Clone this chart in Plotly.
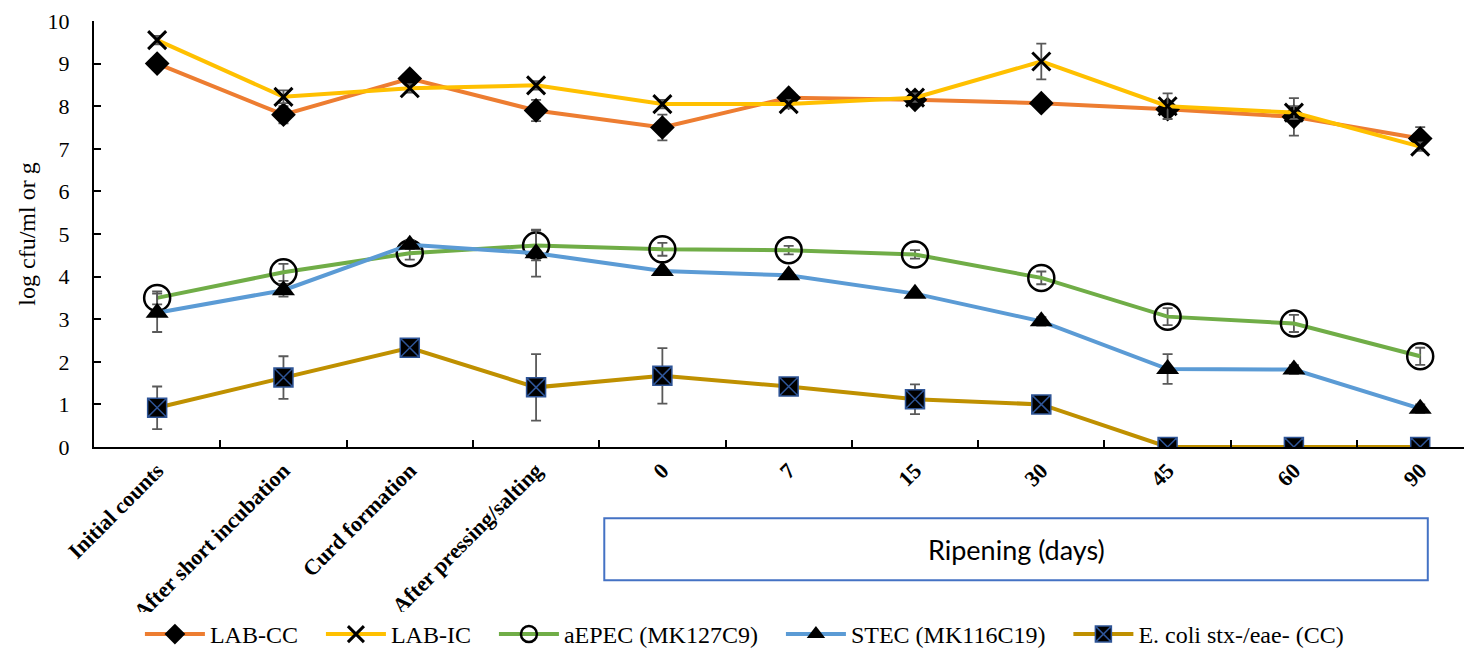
import plotly.graph_objects as go

categories = ["Initial counts", "After short incubation", "Curd formation", "After pressing/salting",
              "0", "7", "15", "30", "45", "60", "90"]

lab_cc = [9.0, 7.8, 8.65, 7.9, 7.5, 8.2, 8.15, 8.07, 7.93, 7.75, 7.24]
lab_cc_err = [0.1, 0.2, 0.1, 0.25, 0.3, 0.1, 0.1, 0.1, 0.15, 0.44, 0.27]

lab_ic = [9.55, 8.22, 8.42, 8.49, 8.05, 8.05, 8.2, 9.05, 8.0, 7.85, 7.05]
lab_ic_err = [0.1, 0.15, 0.1, 0.1, 0.1, 0.1, 0.1, 0.42, 0.3, 0.15, 0.1]

aepec = [3.5, 4.1, 4.55, 4.73, 4.64, 4.62, 4.52, 3.97, 3.06, 2.9, 2.13]
aepec_err = [0.15, 0.2, 0.15, 0.35, 0.15, 0.1, 0.1, 0.15, 0.2, 0.2, 0.2]

stec = [3.15, 3.68, 4.75, 4.55, 4.13, 4.03, 3.6, 2.95, 1.83, 1.82, 0.9]
stec_err = [0.45, 0.15, 0.1, 0.55, 0.05, 0.05, 0.05, 0.1, 0.35, 0.1, 0.1]

ecoli = [0.92, 1.63, 2.33, 1.4, 1.67, 1.42, 1.12, 1.0, 0.0, 0.0, 0.0]
ecoli_err = [0.5, 0.5, 0.1, 0.78, 0.65, 0.05, 0.35, 0.15, 0.0, 0.0, 0.0]

series = [
    ("LAB-CC", lab_cc, lab_cc_err, "#ED7D31", dict(symbol="diamond", size=19, color="black")),
    ("LAB-IC", lab_ic, lab_ic_err, "#FFC000", dict(symbol="x-thin-open", size=18, color="black",
                                                   line=dict(color="black", width=3))),
    ("aEPEC (MK127C9)", aepec, aepec_err, "#70AD47", dict(symbol="circle-open", size=26, color="black",
                                                          line=dict(color="black", width=2.5))),
    ("STEC (MK116C19)", stec, stec_err, "#5B9BD5", dict(symbol="triangle-up", size=20, color="black")),
    ("E. coli stx-/eae- (CC)", ecoli, ecoli_err, "#BF9000", dict(symbol="square-x", size=19, color="black",
                                                                 line=dict(color="#2F5597", width=1.5))),
]

pad = "\u00a0" * 3
fig = go.Figure()
for i, (name, vals, errs, col, mk) in enumerate(series):
    fig.add_trace(go.Scatter(
        x=categories, y=vals, name=name + (pad if i < len(series) - 1 else ""), mode="lines+markers",
        line=dict(color=col, width=4),
        marker=mk,
        error_y=dict(type="data", array=errs, visible=True, color="#595959", thickness=1.8, width=5),
    ))

serif = "Liberation Serif"
# page body has an 8px default margin; figure sized to fit the 1472x657 window
fig.update_layout(
    width=1464, height=649,
    margin=dict(l=86, r=0, t=13, b=210),
    plot_bgcolor="white", paper_bgcolor="white",
    font=dict(family=serif, color="black"),
    showlegend=True,
    legend=dict(orientation="h", xref="paper", yref="container", x=0.472, xanchor="center",
                y=0.0, yanchor="bottom",
                font=dict(family=serif, size=24, color="black"), itemwidth=60),
    xaxis=dict(type="category", range=[-0.5, 10.41], tickangle=-45, automargin=False,
               tickfont=dict(family=serif, size=22, color="black", weight="bold"),
               showline=True, linecolor="black", linewidth=2,
               ticks="inside", ticklen=7, tickwidth=2, tickcolor="black", tickson="boundaries",
               showgrid=False, zeroline=False),
    yaxis=dict(range=[0, 10], dtick=1, automargin=False, ticklabeloverflow="allow",
               tickfont=dict(family=serif, size=22, color="black"),
               showline=True, linecolor="black", linewidth=2,
               ticks="inside", ticklen=7, tickwidth=2, tickcolor="black", ticklabelstandoff=18,
               showgrid=False, zeroline=False,
               title=dict(text="log cfu/ml or g", font=dict(family=serif, size=24, color="black"), standoff=5)),
)

fig.add_shape(type="rect", xref="x", yref="paper", x0=3.54, x1=10.06, y0=-0.167, y1=-0.313,
              line=dict(color="#4472C4", width=2), fillcolor="white")
fig.add_annotation(xref="x", yref="paper", x=(3.54 + 10.06) / 2, y=-0.24, text="Ripening (days)",
                   showarrow=False, font=dict(family="Lato", size=27, color="black"),
                   xanchor="center", yanchor="middle")

fig.write_html("out.html")
